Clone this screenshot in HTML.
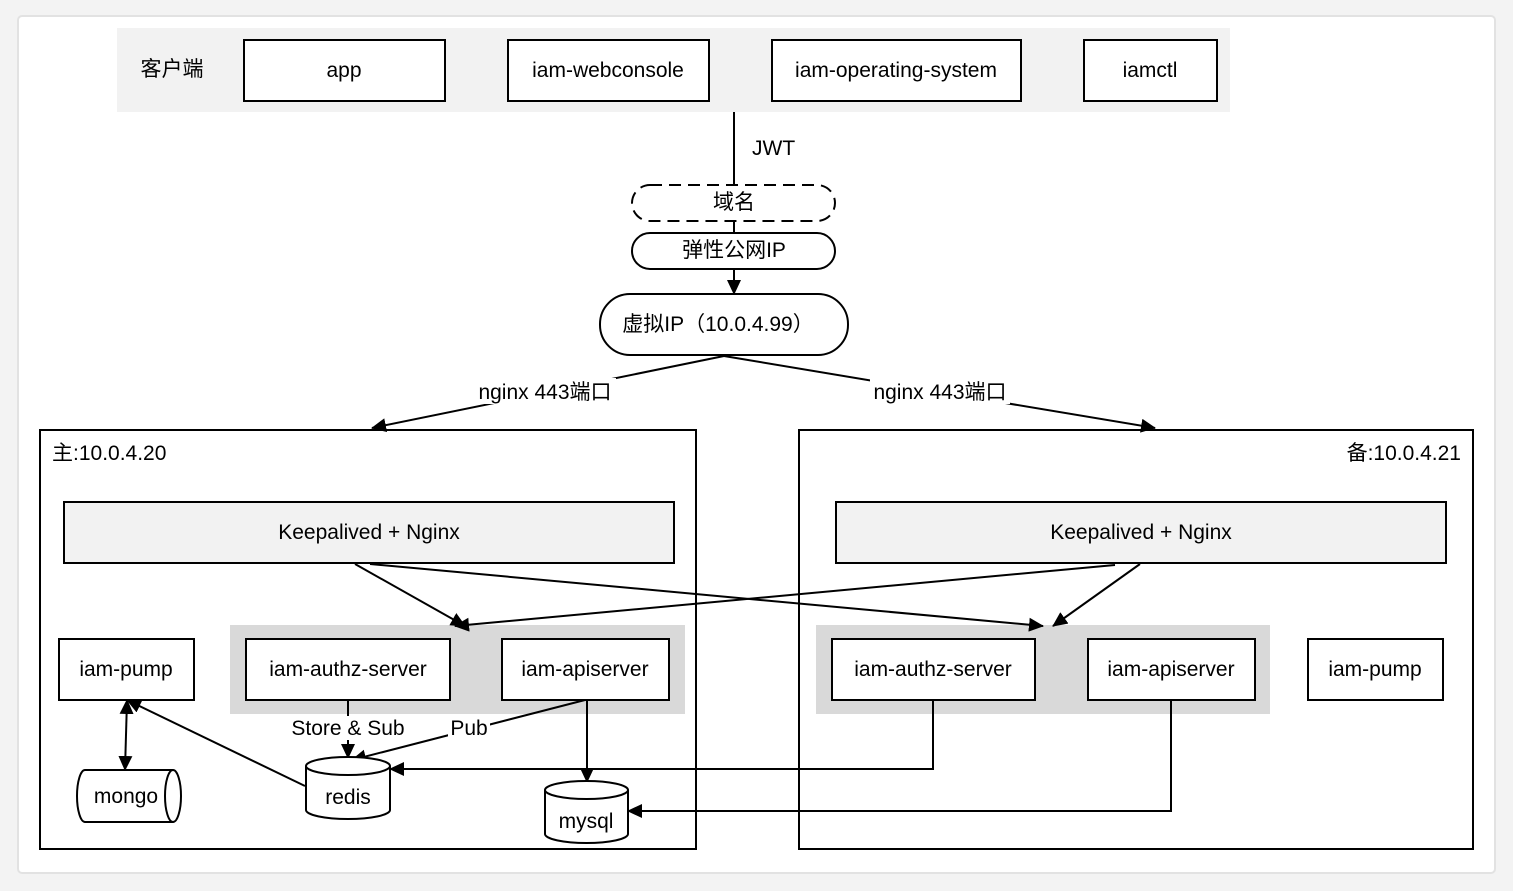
<!DOCTYPE html>
<html><head><meta charset="utf-8"><style>
html,body{margin:0;padding:0;background:#f3f3f3;}
svg{display:block;font-family:"Liberation Sans","Noto Sans CJK SC",sans-serif;}
</style></head><body>
<svg width="1513" height="891" viewBox="0 0 1513 891" xmlns="http://www.w3.org/2000/svg">
<defs>
<marker id="b" markerWidth="16" markerHeight="14" refX="14" refY="7" orient="auto-start-reverse" markerUnits="userSpaceOnUse"><path d="M0,0 L15,7 L0,14 Z" fill="#000"/></marker></defs>
<rect x="18" y="16" width="1477" height="857" fill="#fff" stroke="#e2e2e2" stroke-width="2" rx="4"/>
<g font-size="21" fill="#000" stroke-linecap="butt">
<rect x="117" y="28" width="1113" height="84" fill="#f2f2f2"/>
<text x="172" y="76" text-anchor="middle">客户端</text>
<g fill="#fff" stroke="#000" stroke-width="2">
<rect x="244" y="40" width="201" height="61"/><rect x="508" y="40" width="201" height="61"/>
<rect x="772" y="40" width="249" height="61"/><rect x="1084" y="40" width="133" height="61"/>
</g>
<g text-anchor="middle"><text x="344" y="77">app</text><text x="608" y="77">iam-webconsole</text><text x="896" y="77">iam-operating-system</text><text x="1150" y="77">iamctl</text></g>
<g stroke="#000" stroke-width="2" fill="none">
<line x1="734" y1="112" x2="734" y2="185"/>
<rect x="632" y="185" width="203" height="36" rx="18" stroke-dasharray="12,7" fill="#fff"/>
<line x1="734" y1="221" x2="734" y2="233"/>
<rect x="632" y="233" width="203" height="36" rx="18" fill="#fff"/>
<line x1="734" y1="269" x2="734" y2="294" marker-end="url(#b)"/>
<rect x="600" y="294" width="248" height="61" rx="30" fill="#fff"/>
<line x1="724" y1="356" x2="372" y2="428" marker-end="url(#b)"/>
<line x1="724" y1="356" x2="1155" y2="428" marker-end="url(#b)"/>
<rect x="40" y="430" width="656" height="419"/>
<rect x="799" y="430" width="674" height="419"/>
</g>
<text x="752" y="155">JWT</text>
<text x="734" y="209" text-anchor="middle">域名</text>
<text x="734" y="257" text-anchor="middle">弹性公网IP</text>
<text x="718" y="331" text-anchor="middle">虚拟IP（10.0.4.99）</text>
<rect x="476" y="378" width="140" height="26" fill="#fff"/><text x="545" y="399" text-anchor="middle">nginx 443端口</text>
<rect x="870" y="378" width="140" height="26" fill="#fff"/><text x="940" y="399" text-anchor="middle">nginx 443端口</text>
<text x="52" y="460">主:10.0.4.20</text>
<text x="1461" y="460" text-anchor="end">备:10.0.4.21</text>
<g stroke="#000" stroke-width="2">
<rect x="64" y="502" width="610" height="61" fill="#f2f2f2"/>
<rect x="836" y="502" width="610" height="61" fill="#f2f2f2"/>
</g>
<text x="369" y="539" text-anchor="middle">Keepalived + Nginx</text>
<text x="1141" y="539" text-anchor="middle">Keepalived  + Nginx</text>
<rect x="230" y="625" width="455" height="89" fill="#d9d9d9"/>
<rect x="816" y="625" width="454" height="89" fill="#d9d9d9"/>
<g stroke="#000" stroke-width="2" fill="none">
<line x1="355" y1="564" x2="465" y2="626" marker-end="url(#b)"/>
<line x1="370" y1="564" x2="1043" y2="626" marker-end="url(#b)"/>
<line x1="1140" y1="564" x2="1053" y2="626" marker-end="url(#b)"/>
<line x1="1115" y1="565" x2="455" y2="626" marker-end="url(#b)"/>
</g>
<g fill="#fff" stroke="#000" stroke-width="2">
<rect x="59" y="639" width="135" height="61"/><rect x="246" y="639" width="204" height="61"/><rect x="502" y="639" width="167" height="61"/>
<rect x="832" y="639" width="203" height="61"/><rect x="1088" y="639" width="167" height="61"/><rect x="1308" y="639" width="135" height="61"/>
</g>
<g text-anchor="middle"><text x="126" y="676">iam-pump</text><text x="348" y="676">iam-authz-server</text><text x="585" y="676">iam-apiserver</text>
<text x="933" y="676">iam-authz-server</text><text x="1171" y="676">iam-apiserver</text><text x="1375" y="676">iam-pump</text></g>
<g stroke="#000" stroke-width="2" fill="none">
<line x1="348" y1="700" x2="348" y2="758" marker-end="url(#b)"/>
<line x1="585" y1="700" x2="352" y2="760" marker-end="url(#b)"/>
<line x1="587" y1="700" x2="587" y2="782" marker-end="url(#b)"/>
<line x1="127" y1="700" x2="125" y2="770" marker-end="url(#b)" marker-start="url(#b)"/>
<line x1="305" y1="786" x2="127" y2="700" marker-end="url(#b)"/>
<polyline points="933,700 933,769 390,769" marker-end="url(#b)"/>
<polyline points="1171,700 1171,811 628,811" marker-end="url(#b)"/>
</g>
<rect x="288" y="716" width="122" height="24" fill="#fff"/><text x="348" y="735" text-anchor="middle">Store &amp; Sub</text>
<rect x="448" y="716" width="42" height="24" fill="#fff"/><text x="469" y="735" text-anchor="middle">Pub</text>
<g fill="#fff" stroke="#000" stroke-width="2">
<path d="M306,766 a42,9 0 0 1 84,0 v44 a42,9 0 0 1 -84,0 Z"/><path d="M306,766 a42,9 0 0 0 84,0"/>
<path d="M545,790 a41.5,9 0 0 1 83,0 v44 a41.5,9 0 0 1 -83,0 Z"/><path d="M545,790 a41.5,9 0 0 0 83,0"/>
<path d="M85,770 h88 a8,26 0 0 1 0,52 h-88 a8,26 0 0 1 0,-52 Z"/><path d="M173,770 a8,26 0 0 0 0,52"/>
</g>
<g text-anchor="middle"><text x="348" y="804">redis</text><text x="586" y="828">mysql</text><text x="126" y="803">mongo</text></g>
</g>
</svg>
</body></html>
